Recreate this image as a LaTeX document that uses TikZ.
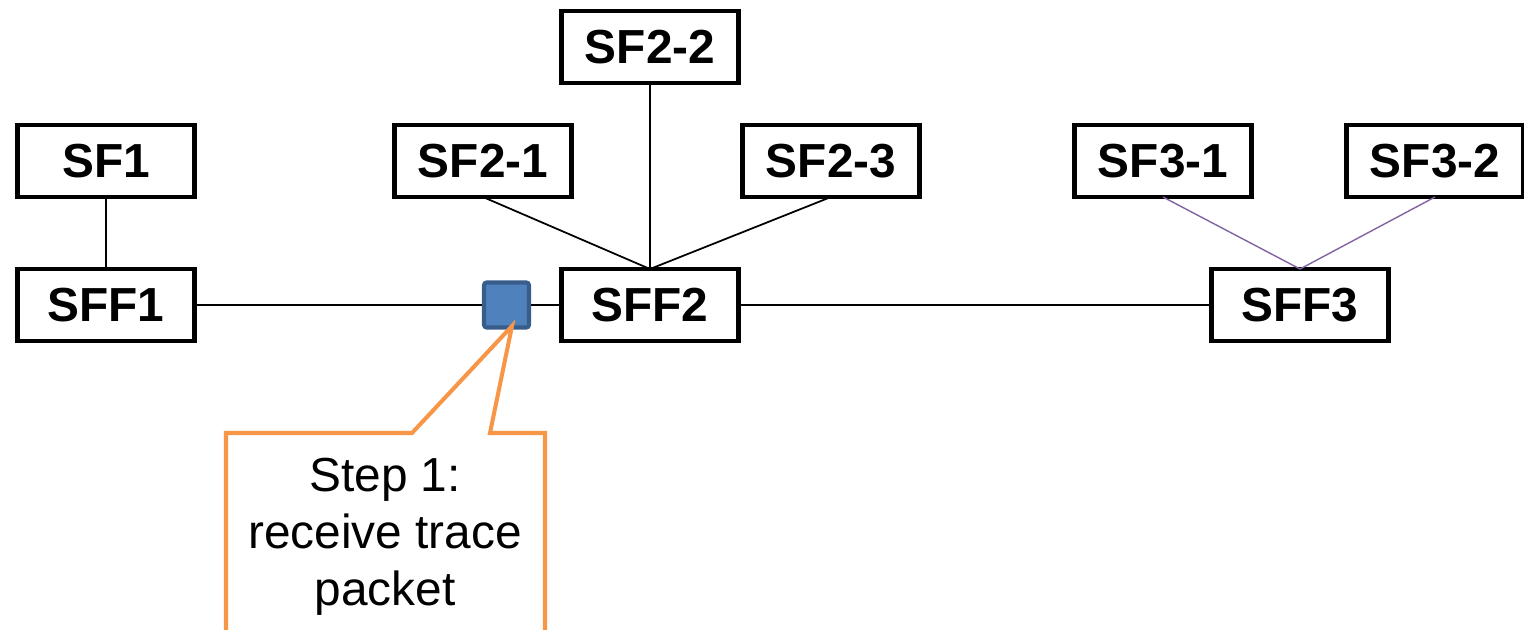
\documentclass[tikz,border=0pt]{standalone}
\usepackage{fontspec}
\setmainfont{Liberation Sans}
\usepackage{tkz-graph}

\definecolor{pktfill}{HTML}{4F81BD}
\definecolor{pktline}{HTML}{385D8A}
\definecolor{noteline}{HTML}{F79646}
\definecolor{sfline}{HTML}{8064A2}

\begin{document}
\begin{tikzpicture}
    \GraphInit[vstyle=Normal]\SetGraphUnit{2.88}
    \tikzset{VertexStyle/.style={draw, shape=rectangle, line width=2.8pt,
        minimum width=3.54cm, minimum height=1.44cm, inner sep=0pt,
        font=\fontsize{27.2}{32}\selectfont\bfseries},
      EdgeStyle/.style={draw, line width=1pt, black}}
    \clip (0,0) rectangle (30.48,-12.58);
    \Vertex[x=2.12,y=-6.10,L=SFF1]{SFF1}
    \NO[L=SF1](SFF1){SF1}
    \Vertex[x=13.00,y=-6.10,L=SFF2]{SFF2}
    \Vertex[x=9.66,y=-3.22,L=SF2-1]{SFa}
    \Vertex[x=13.00,y=-0.94,L=SF2-2]{SFb}
    \Vertex[x=16.62,y=-3.22,L=SF2-3]{SFc}
    \Vertex[x=26.00,y=-6.10,L=SFF3]{SFF3}
    \Vertex[x=23.26,y=-3.22,L=SF3-1]{SFd}
    \Vertex[x=28.70,y=-3.22,L=SF3-2]{SFe}
    % trace packet
    \node[draw=pktline, fill=pktfill, line width=2.3pt, rounded corners=1.5pt,
      minimum size=0.9cm, inner sep=0pt] (pkt) at (10.13,-6.10) {};
    \Edges(SF1, SFF1, pkt, SFF2, SFF3)
    \draw[line width=1pt] (SFa.south) -- (SFF2.north);
    \draw[line width=1pt] (SFb.south) -- (SFF2.north);
    \draw[line width=1pt] (SFc.south) -- (SFF2.north);
    \draw[sfline, line width=0.8pt] (SFd.south) -- (SFF3.north);
    \draw[sfline, line width=0.8pt] (SFe.south) -- (SFF3.north);
    % callout
    \coordinate (tip) at (10.24,-6.52);
    \draw[noteline, line width=2.3pt, line join=miter]
      (4.52,-8.66) -- (8.24,-8.66) -- (tip) -- (9.80,-8.66) -- (10.90,-8.66)
      -- (10.90,-13.0) -- (4.52,-13.0) -- cycle;
    \node[align=center, font=\fontsize{27.2}{32.4}\selectfont] (note) at (7.70,-10.74)
      {Step 1:\\receive trace\\packet};
\end{tikzpicture}
\end{document}
